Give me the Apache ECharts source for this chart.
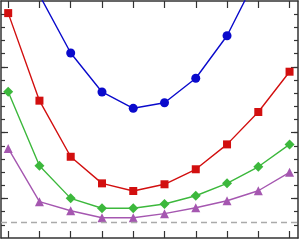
<!DOCTYPE html>
<html>
<head>
<meta charset="utf-8">
<script src="https://cdn.jsdelivr.net/npm/echarts@6/dist/echarts.min.js"></script>
<style>html,body{margin:0;padding:0;background:#fff}#c{width:299px;height:240px}</style>
</head>
<body>
<div id="c"></div>
<script>
const X = [1, 2, 3, 4, 5, 6, 7, 8, 9, 10];
const BLUE = [24.1, 18.45, 14.05, 11.09, 9.85, 10.27, 12.13, 15.36, 20.05, 26.4];
const RED = [17.08, 10.43, 6.17, 4.15, 3.57, 4.08, 5.22, 7.11, 9.57, 12.63];
const GREEN = [11.11, 5.49, 3.01, 2.26, 2.26, 2.58, 3.21, 4.15, 5.41, 7.11];
const PURPLE = [6.8, 2.76, 2.07, 1.54, 1.54, 1.85, 2.30, 2.83, 3.59, 4.99];
const REF_LEVEL = 1.19;
const X_TICKS = [1, 2, 3, 4, 5, 6, 7, 8, 9, 10];
const Y_MINOR_TICKS = [1, 2, 3, 4, 5, 6, 7, 8, 9, 10, 11, 12, 13, 14, 15, 16, 17];
const Y_MAJOR_TICKS = [3, 8, 13];

const frame = '#333';
function xAx(pos) {
  return {type: 'value', position: pos, min: 0.77, max: 10.27,
    axisLine: {show: true, onZero: false, lineStyle: {color: frame, width: 1.5}},
    axisTick: {show: true, inside: true, length: 7, customValues: X_TICKS, lineStyle: {color: frame, width: 1.2}},
    axisLabel: {show: false}, splitLine: {show: false}};
}
function yAx(pos, ticks, len, line) {
  return {type: 'value', position: pos, min: 0, max: 18,
    axisLine: {show: line, onZero: false, lineStyle: {color: frame, width: 1.5}},
    axisTick: {show: true, inside: true, length: len, customValues: ticks, lineStyle: {color: frame, width: 1.2}},
    axisLabel: {show: false}, splitLine: {show: false}};
}
function pts(arr) { return X.map((x, i) => [x, arr[i]]); }
function ser(arr, color, symbol, size) {
  return {type: 'line', data: pts(arr), symbol: symbol, symbolSize: size,
    lineStyle: {color: color, width: 1.4}, itemStyle: {color: color},
    clip: true, animation: false};
}
const chart = echarts.init(document.getElementById('c'), null, {renderer: 'canvas'});
const purple = ser(PURPLE, '#a557b0', 'triangle', 9);
purple.markLine = {silent: true, symbol: 'none', label: {show: false},
  lineStyle: {color: '#aaaaaa', type: [6, 4], width: 1.3}, data: [{yAxis: REF_LEVEL}]};
chart.setOption({
  animation: false,
  grid: {left: 1, right: 1, top: 1, bottom: 2, containLabel: false},
  xAxis: [xAx('bottom'), xAx('top')],
  yAxis: [yAx('left', Y_MINOR_TICKS, 4, true), yAx('left', Y_MAJOR_TICKS, 7, false),
          yAx('right', Y_MINOR_TICKS, 4, true), yAx('right', Y_MAJOR_TICKS, 7, false)],
  series: [
    ser(BLUE, '#0a0acc', 'circle', 9),
    ser(RED, '#d20f0f', 'rect', 8),
    ser(GREEN, '#3cb83c', 'diamond', 10),
    purple
  ]
});
</script>
</body>
</html>
